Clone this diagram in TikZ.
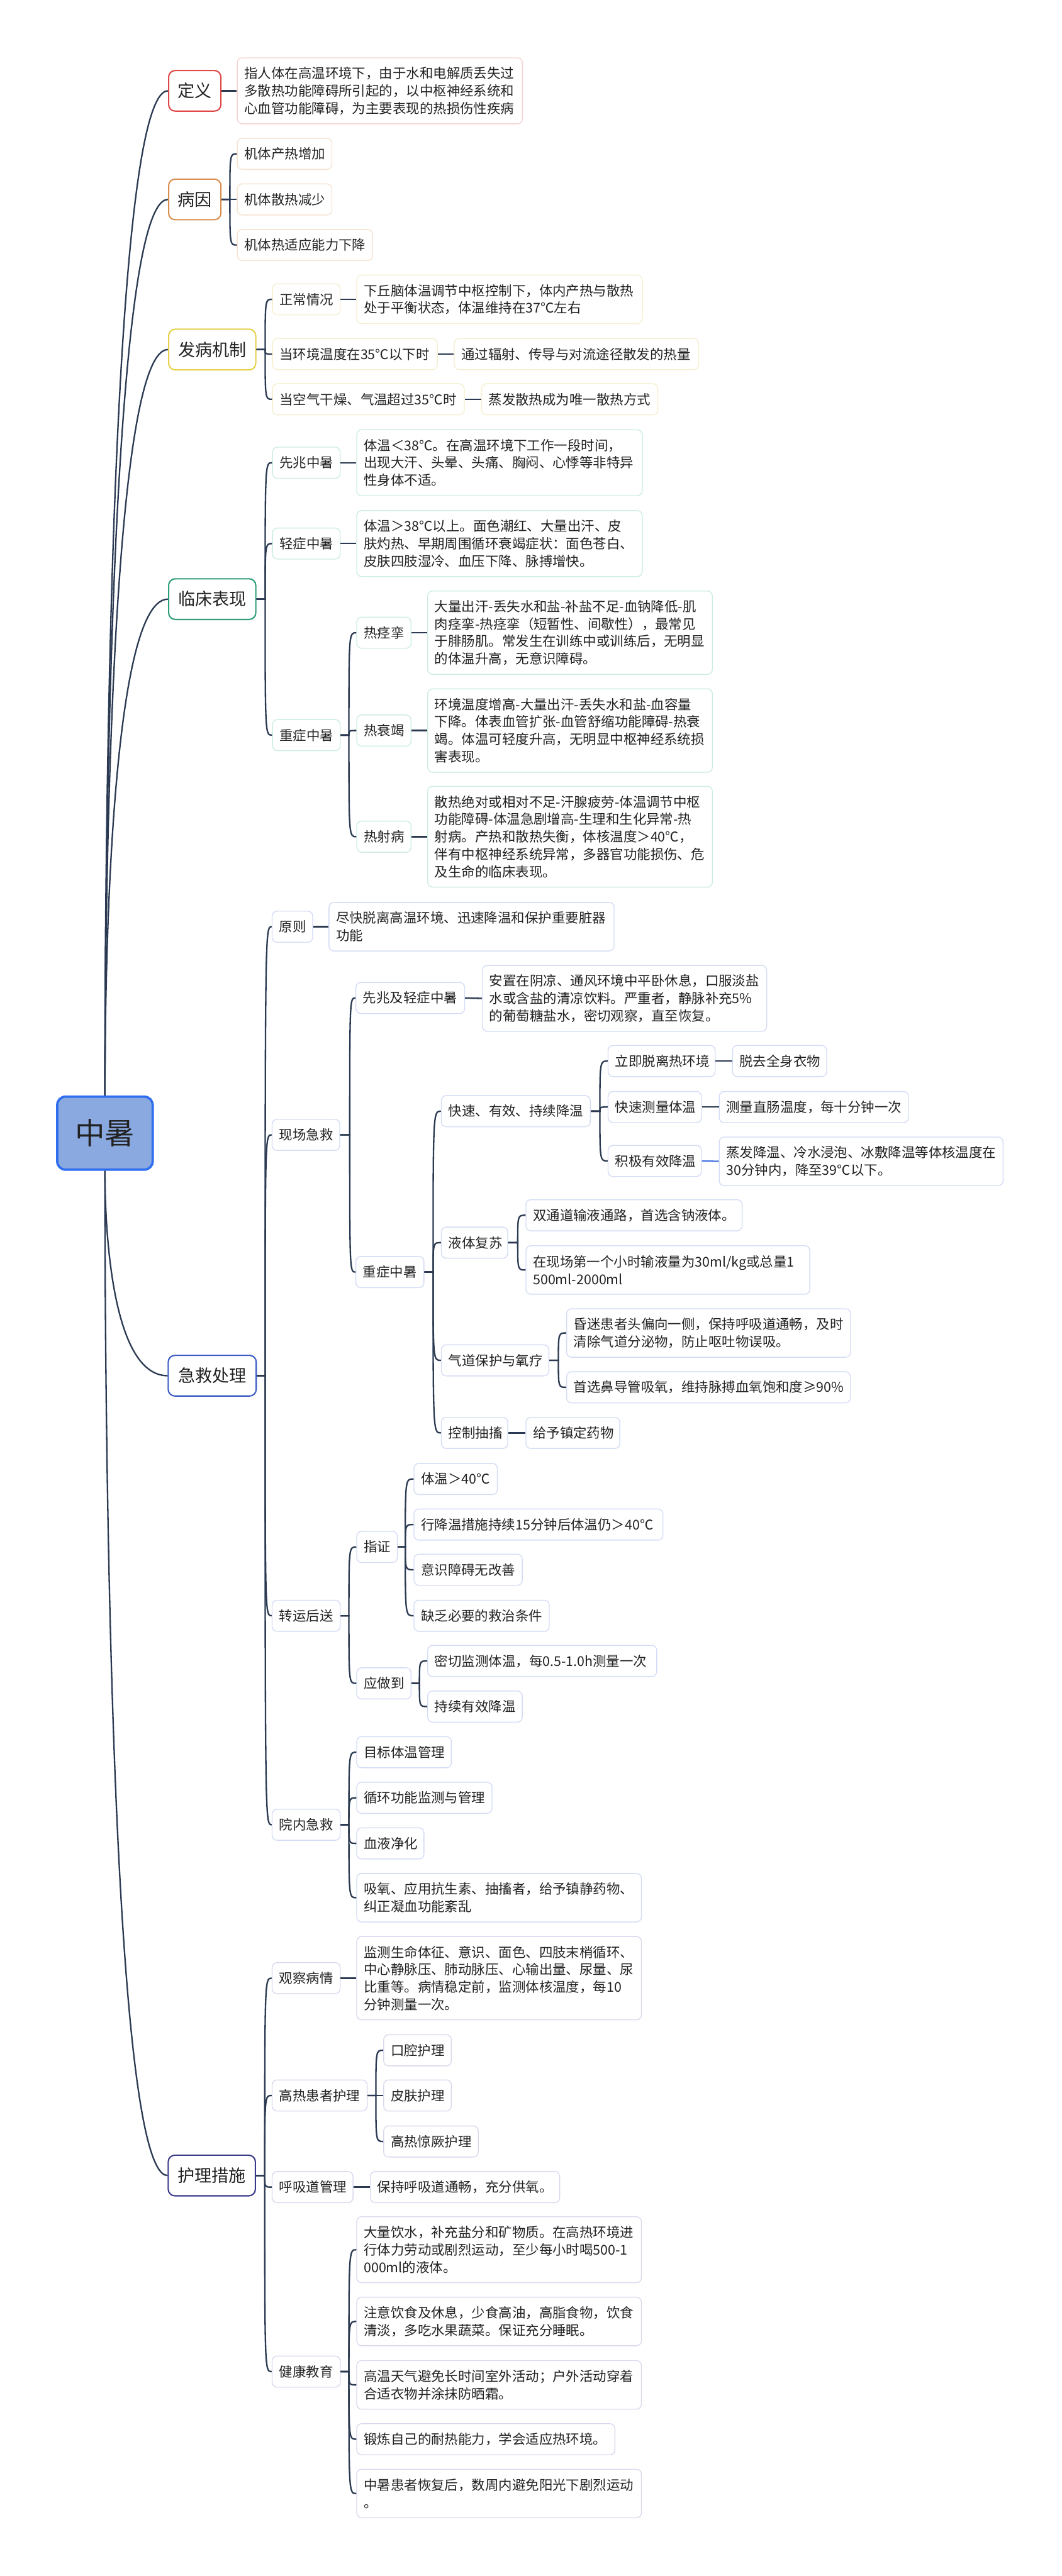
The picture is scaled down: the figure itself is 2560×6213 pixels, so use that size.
\documentclass[tikz,border=0pt]{standalone}
\usepackage{fontspec}
\newfontfamily\cjk{Noto Sans CJK SC}
\usetikzlibrary{calc}
\definecolor{lineC}{HTML}{2B3A52}
\definecolor{txt}{HTML}{222222}
\definecolor{cRed}{HTML}{E04848}
\definecolor{cRedL}{HTML}{F6D2D2}
\definecolor{cOra}{HTML}{D98E4C}
\definecolor{cOraL}{HTML}{F6E3D0}
\definecolor{cYel}{HTML}{E8D04A}
\definecolor{cYelL}{HTML}{F5EFCF}
\definecolor{cGrn}{HTML}{2E9E78}
\definecolor{cGrnL}{HTML}{CDEDE0}
\definecolor{cBlu}{HTML}{3B5BC4}
\definecolor{cBluL}{HTML}{D5DCF5}
\definecolor{cPur}{HTML}{3A3A8A}
\definecolor{cPurL}{HTML}{DAD8EE}
\definecolor{rootF}{HTML}{8AA9E0}
\definecolor{rootB}{HTML}{2F6FEF}
\definecolor{stubB}{HTML}{4A78E0}
\tikzset{
  base/.style={draw, rounded corners=0.12cm, fill=white, line width=0.6pt, inner xsep=0.17cm, inner ysep=0pt, align=left, font=\cjk\fontsize{9.25pt}{11.95pt}\selectfont, text=txt},
  cA/.style={base, draw=cRedL},
  cB/.style={base, draw=cOraL},
  cC/.style={base, draw=cYelL},
  cD/.style={base, draw=cGrnL},
  cE/.style={base, draw=cBluL},
  cF/.style={base, draw=cPurL},
  lone/.style={draw, rounded corners=0.16cm, fill=white, line width=0.9pt, inner sep=0pt, align=center, font=\cjk\fontsize{11.7pt}{14pt}\selectfont, text=txt, minimum height=0.98cm, anchor=west},
  rootnode/.style={draw=rootB, fill=rootF, line width=1.6pt, rounded corners=0.2cm, minimum width=2.3cm, minimum height=1.76cm, font=\cjk\fontsize{20.5pt}{24pt}\selectfont, text=txt},
  conn/.style={draw=lineC, line width=1pt},
}
\newcommand\mmbox[7]{%
  \pgfmathsetmacro\mmw{(#5-34)/100}%
  \pgfmathsetmacro\mmh{(#6*42+33)/100}%
  \node[#2, anchor=west, text width=\mmw cm, minimum height=\mmh cm] (#1) at (#3,#4) {#7};}
\newcommand\mmkid[3]{\draw[conn] (#1.east) -- (#2) .. controls (#2 |- #3.west) and (#2 |- #3.west) .. (#3.west);}
\newcommand\mmroot[4]{\draw[conn] (#1) .. controls ($(#1)!#3!(#1 |- #2.west)$) and ($(#1 |- #2.west)+(#4,0)$) .. (#2.west);}
\begin{document}
\begin{tikzpicture}[x=0.01cm,y=-0.01cm]
\fill[white] (0,0) rectangle (2560,6213);
\useasboundingbox (0,0) rectangle (2560,6213);

% root
\node[rootnode] (root) at (253,2733) {中暑};

% level 1
\node[lone, draw=cRed, minimum width=1.26cm] (dy) at (405,219) {定义};
\node[lone, draw=cOra, minimum width=1.26cm] (by) at (405,481) {病因};
\node[lone, draw=cYel, minimum width=2.10cm] (fb) at (405,843) {发病机制};
\node[lone, draw=cGrn, minimum width=2.10cm] (lc) at (405,1445) {临床表现};
\node[lone, draw=cBlu, minimum width=2.12cm] (jj) at (404,3318) {急救处理};
\node[lone, draw=cPur, minimum width=2.10cm] (hl) at (404,5247) {护理措施};

% 定义
\mmbox{dyc}{cA}{571}{219}{687}{3}{指人体在高温环境下，由于水和电解质丢失过\\多散热功能障碍所引起的，以中枢神经系统和\\心血管功能障碍，为主要表现的热损伤性疾病}

% 病因
\mmbox{by1}{cB}{571}{371}{228}{1}{机体产热增加}
\mmbox{by2}{cB}{571}{481}{228}{1}{机体散热减少}
\mmbox{by3}{cB}{571}{591}{326}{1}{机体热适应能力下降}

% 发病机制
\mmbox{fb1}{cC}{656}{722}{163}{1}{正常情况}
\mmbox{fb1c}{cC}{859}{722}{688}{2}{下丘脑体温调节中枢控制下，体内产热与散热\\处于平衡状态，体温维持在37℃左右}
\mmbox{fb2}{cC}{656}{854}{397}{1}{当环境温度在35℃以下时}
\mmbox{fb2c}{cC}{1094}{854}{589}{1}{通过辐射、传导与对流途径散发的热量}
\mmbox{fb3}{cC}{656}{963}{462}{1}{当空气干燥、气温超过35℃时}
\mmbox{fb3c}{cC}{1160}{963}{425}{1}{蒸发散热成为唯一散热方式}

% 临床表现
\mmbox{lc1}{cD}{656}{1116}{163}{1}{先兆中暑}
\mmbox{lc1c}{cD}{859}{1116}{688}{3}{体温＜38℃。在高温环境下工作一段时间，\\出现大汗、头晕、头痛、胸闷、心悸等非特异\\性身体不适。}
\mmbox{lc2}{cD}{656}{1311}{163}{1}{轻症中暑}
\mmbox{lc2c}{cD}{859}{1311}{688}{3}{体温＞38℃以上。面色潮红、大量出汗、皮\\肤灼热、早期周围循环衰竭症状：面色苍白、\\皮肤四肢湿冷、血压下降、脉搏增快。}
\mmbox{lc3}{cD}{656}{1773}{163}{1}{重症中暑}
\mmbox{lc31}{cD}{859}{1526}{131}{1}{热痉挛}
\mmbox{lc31c}{cD}{1030}{1526}{686}{4}{大量出汗-丢失水和盐-补盐不足-血钠降低-肌\\肉痉挛-热痉挛（短暂性、间歇性），最常见\\于腓肠肌。常发生在训练中或训练后，无明显\\的体温升高，无意识障碍。}
\mmbox{lc32}{cD}{859}{1762}{131}{1}{热衰竭}
\mmbox{lc32c}{cD}{1030}{1762}{686}{4}{环境温度增高-大量出汗-丢失水和盐-血容量\\下降。体表血管扩张-血管舒缩功能障碍-热衰\\竭。体温可轻度升高，无明显中枢神经系统损\\害表现。}
\mmbox{lc33}{cD}{859}{2018}{131}{1}{热射病}
\mmbox{lc33c}{cD}{1030}{2018}{686}{5}{散热绝对或相对不足-汗腺疲劳-体温调节中枢\\功能障碍-体温急剧增高-生理和生化异常-热\\射病。产热和散热失衡，体核温度＞40℃，\\伴有中枢神经系统异常，多器官功能损伤、危\\及生命的临床表现。}

% 急救处理
\mmbox{jj1}{cE}{655}{2235}{98}{1}{原则}
\mmbox{jj1c}{cE}{792}{2235}{687}{2}{尽快脱离高温环境、迅速降温和保护重要脏器\\功能}
\mmbox{jj2}{cE}{655}{2737}{163}{1}{现场急救}
\mmbox{jj21}{cE}{857}{2407}{262}{1}{先兆及轻症中暑}
\mmbox{jj21c}{cE}{1162}{2408}{685}{3}{安置在阴凉、通风环境中平卧休息，口服淡盐\\水或含盐的清凉饮料。严重者，静脉补充5\%\\的葡萄糖盐水，密切观察，直至恢复。}
\mmbox{jj22}{cE}{857}{3068}{164}{1}{重症中暑}
\mmbox{qa}{cE}{1063}{2680}{359}{1}{快速、有效、持续降温}
\mmbox{qa1}{cE}{1465}{2559}{258}{1}{立即脱离热环境}
\mmbox{qa1c}{cE}{1765}{2559}{227}{1}{脱去全身衣物}
\mmbox{qa2}{cE}{1465}{2670}{225}{1}{快速测量体温}
\mmbox{qa2c}{cE}{1733}{2670}{456}{1}{测量直肠温度，每十分钟一次}
\mmbox{qa3}{cE}{1465}{2800}{225}{1}{积极有效降温}
\mmbox{qa3c}{cE}{1733}{2801}{684}{2}{蒸发降温、冷水浸泡、冰敷降温等体核温度在\\30分钟内，降至39℃以下。}
\mmbox{qb}{cE}{1063}{2997}{160}{1}{液体复苏}
\mmbox{qb1}{cE}{1267}{2931}{521}{1}{双通道输液通路，首选含钠液体。}
\mmbox{qb2}{cE}{1267}{3063}{684}{2}{在现场第一个小时输液量为30ml/kg或总量1\\500ml-2000ml}
\mmbox{qc}{cE}{1063}{3281}{259}{1}{气道保护与氧疗}
\mmbox{qc1}{cE}{1365}{3215}{684}{2}{昏迷患者头偏向一侧，保持呼吸道通畅，及时\\清除气道分泌物，防止呕吐物误吸。}
\mmbox{qc2}{cE}{1365}{3346}{684}{1}{首选鼻导管吸氧，维持脉搏血氧饱和度≥90\%}
\mmbox{qd}{cE}{1063}{3456}{160}{1}{控制抽搐}
\mmbox{qd1}{cE}{1267}{3456}{226}{1}{给予镇定药物}
\mmbox{jj3}{cE}{655}{3897}{164}{1}{转运后送}
\mmbox{ze}{cE}{859}{3731}{98}{1}{指证}
\mmbox{ze1}{cE}{997}{3567}{201}{1}{体温＞40℃}
\mmbox{ze2}{cE}{997}{3677}{600}{1}{行降温措施持续15分钟后体温仍＞40℃}
\mmbox{ze3}{cE}{997}{3786}{261}{1}{意识障碍无改善}
\mmbox{ze4}{cE}{997}{3897}{326}{1}{缺乏必要的救治条件}
\mmbox{zf}{cE}{859}{4060}{131}{1}{应做到}
\mmbox{zf1}{cE}{1030}{4006}{552}{1}{密切监测体温，每0.5-1.0h测量一次}
\mmbox{zf2}{cE}{1030}{4116}{228}{1}{持续有效降温}
\mmbox{jj4}{cE}{655}{4401}{164}{1}{院内急救}
\mmbox{yn1}{cE}{859}{4226}{228}{1}{目标体温管理}
\mmbox{yn2}{cE}{859}{4336}{326}{1}{循环功能监测与管理}
\mmbox{yn3}{cE}{859}{4446}{162}{1}{血液净化}
\mmbox{yn4}{cE}{859}{4577}{686}{2}{吸氧、应用抗生素、抽搐者，给予镇静药物、\\纠正凝血功能紊乱}

% 护理措施
\mmbox{h1}{cF}{655}{4771}{164}{1}{观察病情}
\mmbox{h1c}{cF}{859}{4771}{686}{4}{监测生命体征、意识、面色、四肢末梢循环、\\中心静脉压、肺动脉压、心输出量、尿量、尿\\比重等。病情稳定前，监测体核温度，每10\\分钟测量一次。}
\mmbox{h2}{cF}{655}{5054}{229}{1}{高热患者护理}
\mmbox{h21}{cF}{924}{4945}{163}{1}{口腔护理}
\mmbox{h22}{cF}{924}{5054}{163}{1}{皮肤护理}
\mmbox{h23}{cF}{924}{5165}{228}{1}{高热惊厥护理}
\mmbox{h3}{cF}{655}{5275}{195}{1}{呼吸道管理}
\mmbox{h3c}{cF}{892}{5275}{456}{1}{保持呼吸道通畅，充分供氧。}
\mmbox{h4}{cF}{655}{5720}{164}{1}{健康教育}
\mmbox{k1}{cF}{859}{5426}{686}{3}{大量饮水，补充盐分和矿物质。在高热环境进\\行体力劳动或剧烈运动，至少每小时喝500-1\\000ml的液体。}
\mmbox{k2}{cF}{859}{5599}{686}{2}{注意饮食及休息，少食高油，高脂食物，饮食\\清淡，多吃水果蔬菜。保证充分睡眠。}
\mmbox{k3}{cF}{859}{5752}{686}{2}{高温天气避免长时间室外活动；户外活动穿着\\合适衣物并涂抹防晒霜。}
\mmbox{k4}{cF}{859}{5883}{622}{1}{锻炼自己的耐热能力，学会适应热环境。}
\mmbox{k5}{cF}{859}{6014}{686}{2}{中暑患者恢复后，数周内避免阳光下剧烈运动\\。}

% trunk coordinates
\coordinate (t-by) at ($(by.east)+(20,0)$);
\coordinate (t-fb) at ($(fb.east)+(21,0)$);
\coordinate (t-lc) at ($(lc.east)+(21,0)$);
\coordinate (t-lc3) at ($(lc3.east)+(20,0)$);
\coordinate (t-jj) at ($(jj.east)+(20,0)$);
\coordinate (t-jj2) at ($(jj2.east)+(23,0)$);
\coordinate (t-jj22) at ($(jj22.east)+(21,0)$);
\coordinate (t-qa) at ($(qa.east)+(22,0)$);
\coordinate (t-qb) at ($(qb.east)+(23,0)$);
\coordinate (t-qc) at ($(qc.east)+(22,0)$);
\coordinate (t-jj3) at ($(jj3.east)+(20,0)$);
\coordinate (t-ze) at ($(ze.east)+(18,0)$);
\coordinate (t-zf) at ($(zf.east)+(19,0)$);
\coordinate (t-jj4) at ($(jj4.east)+(20,0)$);
\coordinate (t-hl) at ($(hl.east)+(21,0)$);
\coordinate (t-h2) at ($(h2.east)+(20,0)$);
\coordinate (t-h4) at ($(h4.east)+(20,0)$);

% root branches
\mmroot{root.north}{dy}{0.1}{0}
\mmroot{root.north}{by}{0.1}{0}
\mmroot{root.north}{fb}{0.1}{0}
\mmroot{root.north}{lc}{0.1}{0}
\mmroot{root.south}{jj}{0.1}{0}
\mmroot{root.south}{hl}{0.1}{0}

% connectors
\draw[conn] (dy.east) -- (dyc.west);
\mmkid{by}{t-by}{by1}
\mmkid{by}{t-by}{by2}
\mmkid{by}{t-by}{by3}
\mmkid{fb}{t-fb}{fb1}
\mmkid{fb}{t-fb}{fb2}
\mmkid{fb}{t-fb}{fb3}
\draw[conn] (fb1.east) -- (fb1c.west);
\draw[conn] (fb2.east) -- (fb2c.west);
\draw[conn] (fb3.east) -- (fb3c.west);
\mmkid{lc}{t-lc}{lc1}
\mmkid{lc}{t-lc}{lc2}
\mmkid{lc}{t-lc}{lc3}
\draw[conn] (lc1.east) -- (lc1c.west);
\draw[conn] (lc2.east) -- (lc2c.west);
\mmkid{lc3}{t-lc3}{lc31}
\mmkid{lc3}{t-lc3}{lc32}
\mmkid{lc3}{t-lc3}{lc33}
\draw[conn] (lc31.east) -- (lc31c.west);
\draw[conn] (lc32.east) -- (lc32c.west);
\draw[conn] (lc33.east) -- (lc33c.west);

\mmkid{jj}{t-jj}{jj1}
\mmkid{jj}{t-jj}{jj2}
\mmkid{jj}{t-jj}{jj3}
\mmkid{jj}{t-jj}{jj4}
\draw[conn] (jj1.east) -- (jj1c.west);
\mmkid{jj2}{t-jj2}{jj21}
\mmkid{jj2}{t-jj2}{jj22}
\draw[conn] (jj21.east) -- (jj21c.west);
\mmkid{jj22}{t-jj22}{qa}
\mmkid{jj22}{t-jj22}{qb}
\mmkid{jj22}{t-jj22}{qc}
\mmkid{jj22}{t-jj22}{qd}
\mmkid{qa}{t-qa}{qa1}
\mmkid{qa}{t-qa}{qa2}
\mmkid{qa}{t-qa}{qa3}
\draw[conn] (qa1.east) -- (qa1c.west);
\draw[conn] (qa2.east) -- (qa2c.west);
\draw[conn, draw=stubB] (qa3.east) -- (qa3c.west);
\mmkid{qb}{t-qb}{qb1}
\mmkid{qb}{t-qb}{qb2}
\mmkid{qc}{t-qc}{qc1}
\mmkid{qc}{t-qc}{qc2}
\draw[conn] (qd.east) -- (qd1.west);
\mmkid{jj3}{t-jj3}{ze}
\mmkid{jj3}{t-jj3}{zf}
\mmkid{ze}{t-ze}{ze1}
\mmkid{ze}{t-ze}{ze2}
\mmkid{ze}{t-ze}{ze3}
\mmkid{ze}{t-ze}{ze4}
\mmkid{zf}{t-zf}{zf1}
\mmkid{zf}{t-zf}{zf2}
\mmkid{jj4}{t-jj4}{yn1}
\mmkid{jj4}{t-jj4}{yn2}
\mmkid{jj4}{t-jj4}{yn3}
\mmkid{jj4}{t-jj4}{yn4}

\mmkid{hl}{t-hl}{h1}
\mmkid{hl}{t-hl}{h2}
\mmkid{hl}{t-hl}{h3}
\mmkid{hl}{t-hl}{h4}
\draw[conn] (h1.east) -- (h1c.west);
\mmkid{h2}{t-h2}{h21}
\mmkid{h2}{t-h2}{h22}
\mmkid{h2}{t-h2}{h23}
\draw[conn] (h3.east) -- (h3c.west);
\mmkid{h4}{t-h4}{k1}
\mmkid{h4}{t-h4}{k2}
\mmkid{h4}{t-h4}{k3}
\mmkid{h4}{t-h4}{k4}
\mmkid{h4}{t-h4}{k5}
\end{tikzpicture}
\end{document}
